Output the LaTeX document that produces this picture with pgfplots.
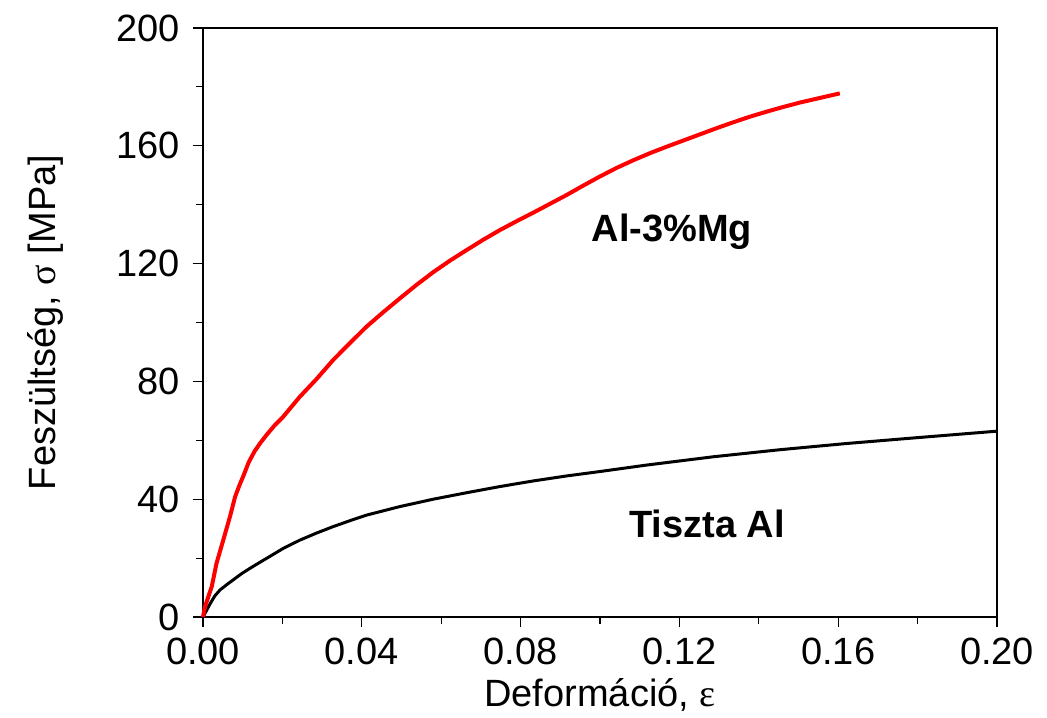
\documentclass[border=0pt]{standalone}
\usepackage{fontspec}
\setmainfont{Liberation Sans}
\newfontfamily\greekserif{Liberation Serif}
\usepackage{pgfplots}
\pgfplotsset{compat=1.18}
\begin{document}
\fontsize{19}{22}\selectfont
\begin{tikzpicture}
\begin{axis}[
  scale only axis,
  width=397pt, height=294.5pt,
  xmin=0, xmax=0.2, ymin=0, ymax=200,
  xtick={0,0.04,0.08,0.12,0.16,0.2},
  xticklabels={0.00,0.04,0.08,0.12,0.16,0.20},
  ytick={0,40,80,120,160,200},
  minor xtick={0.02,0.06,0.10,0.14,0.18},
  minor ytick={20,60,100,140,180},
  tick align=outside,
  xtick pos=bottom, ytick pos=left,
  major tick length=5pt, minor tick length=3.5pt,
  every tick/.style={black, line width=0.6pt},
  axis line style={line width=0.8pt},
  /pgf/number format/assume math mode=true,
  tick label style={font=\fontsize{19}{22}\selectfont},
  xticklabel style={yshift=1pt},
  scaled x ticks=false,
  xlabel={Deformáció, {\greekserif ε}},
  ylabel={Feszültség, {\greekserif σ} [MPa]},
  label style={font=\fontsize{19}{22}\selectfont},
  xlabel style={at={(axis description cs:0.5,-0.132)}, anchor=center},
  ylabel style={at={(axis description cs:-0.199,0.5)}, anchor=center, rotate=0},
  clip=false,
]
\addplot[black, line width=1.5pt] coordinates {
(0,0) (0.0008,2) (0.0018,4.5) (0.003,7.2) (0.0043,9.2) (0.006,11) (0.0076,12.6)
(0.0097,14.7) (0.0118,16.5) (0.014,18.3)
(0.016,19.9) (0.0202,23.3) (0.0244,26.1) (0.0286,28.5) (0.0328,30.7) (0.037,32.7) (0.0412,34.6)
(0.0496,37.5) (0.058,40) (0.0664,42.2) (0.0748,44.3) (0.0832,46.2)
(0.0916,47.9) (0.1,49.4) (0.1118,51.6) (0.1285,54.4) (0.1453,56.8)
(0.162,58.9) (0.179,60.8) (0.2,63.1)
};
\addplot[red, line width=2pt] coordinates {
(0,0) (0.0005,3.5) (0.0022,10.3) (0.0034,18.2) (0.0051,26.1) (0.0068,34.1)
(0.0081,40.9) (0.0092,44.8) (0.0102,48) (0.0115,52.5) (0.013,56.3) (0.0145,59.2)
(0.016,61.8) (0.018,65) (0.0202,68)
(0.0244,74.8) (0.0286,80.8) (0.0328,87.3) (0.037,93) (0.0412,98.6)
(0.0454,103.5) (0.0496,108.2) (0.0538,112.8) (0.058,117.1) (0.0622,121) (0.0664,124.6)
(0.0706,128.1) (0.0748,131.4) (0.079,134.4)
(0.0832,137.3) (0.0874,140.3) (0.0916,143.3) (0.0958,146.5) (0.1,149.6) (0.1042,152.5) (0.1084,155.1) (0.1126,157.5)
(0.1168,159.7) (0.121,161.8) (0.1252,163.9) (0.1294,166) (0.1336,168) (0.1378,169.9) (0.142,171.6) (0.1462,173.2) (0.1504,174.7) (0.1546,176)
(0.1604,177.8)
};
\node[font=\fontsize{19}{22}\selectfont\bfseries] at (axis cs:0.1181,130.7) {Al-3\%Mg};
\node[font=\fontsize{19}{22}\selectfont\bfseries] at (axis cs:0.127,31.6) {Tiszta Al};
\end{axis}
\pgfresetboundingbox
\path (-101.5pt,-50pt) rectangle (422pt,308.5pt);
\end{tikzpicture}
\end{document}
